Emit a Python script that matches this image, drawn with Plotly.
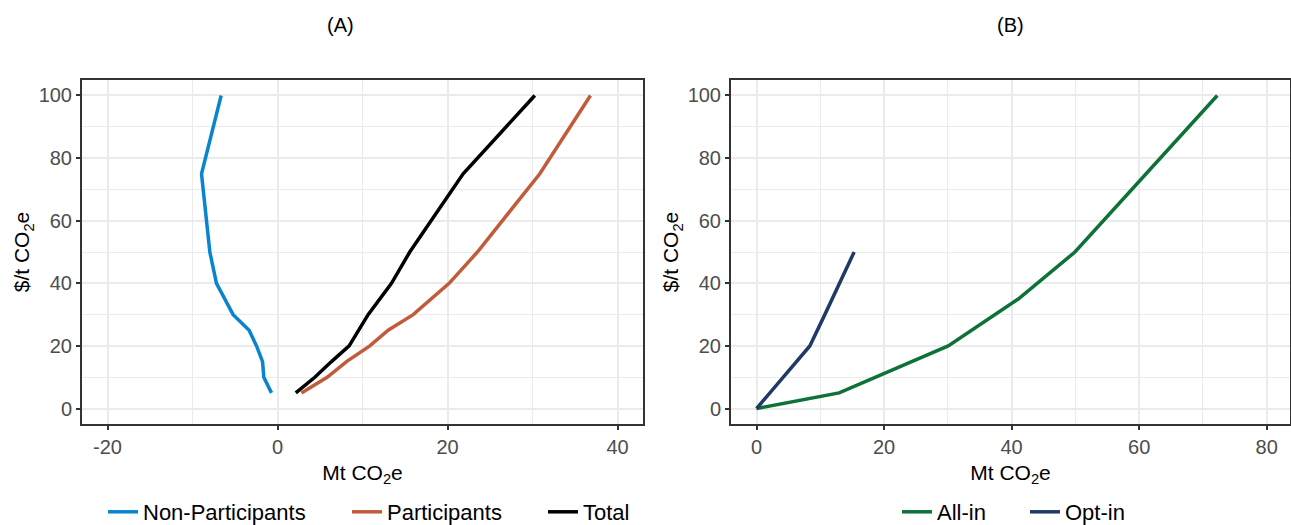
import plotly.graph_objects as go

# ---------------- data ----------------
price_np = [5, 10, 15, 20, 25, 30, 40, 50, 75, 100]
non_participants = [-0.71, -1.61, -1.76, -2.47, -3.34, -5.22, -7.18, -7.96, -8.94, -6.63]

price_p = [5, 10, 15, 20, 25, 30, 40, 50, 75, 100]
participants = [2.82, 5.84, 8.12, 10.86, 13.02, 15.96, 20.19, 23.52, 30.86, 36.82]

price_t = [5, 10, 15, 20, 30, 40, 50, 75, 100]
total = [2.15, 4.39, 6.35, 8.43, 10.66, 13.41, 15.56, 21.84, 30.27]

price_all = [0, 5, 20, 35, 50, 100]
all_in = [0, 12.96, 30.06, 41.04, 49.93, 72.25]

price_opt = [0, 10, 20, 30, 40, 50]
opt_in = [0, 4.18, 8.36, 10.71, 13.06, 15.31]

xticks_a = [-20, 0, 20, 40]
xticks_a_text = ["-20", "0", "20", "40"]
xticks_b = [0, 20, 40, 60, 80]
yticks = [0, 20, 40, 60, 80, 100]

panel_titles = ["(A)", "(B)"]
x_title = "Mt CO<sub>2</sub>e"
y_title = "$/t CO<sub>2</sub>e"

# ---------------- styling ----------------
W, H = 1291, 525
FIG_H = 533
FONT = "Liberation Sans, Arial, sans-serif"
C_BLUE = "#0A84CF"
C_ORANGE = "#C25B3A"
C_BLACK = "#000000"
C_GREEN = "#0E7138"
C_NAVY = "#1F3A66"
LW = 3.5

def px_x(p):
    return p / W

def px_y(p):
    return (H - p) / H

fig = go.Figure()

series = [
    ("Non-Participants", non_participants, price_np, C_BLUE, "x", "y", "legend"),
    ("Participants", participants, price_p, C_ORANGE, "x", "y", "legend2"),
    ("Total", total, price_t, C_BLACK, "x", "y", "legend3"),
    ("All-in", all_in, price_all, C_GREEN, "x2", "y2", "legend4"),
    ("Opt-in", opt_in, price_opt, C_NAVY, "x2", "y2", "legend5"),
]
for name, xs, ys, col, xa, ya, lg in series:
    fig.add_trace(go.Scatter(
        x=xs, y=ys, mode="lines", name=name, showlegend=True,
        line=dict(color=col, width=LW),
        xaxis=xa, yaxis=ya, legend=lg, hoverinfo="skip",
    ))

grid_c = "#EBEBEB"
axis_common = dict(
    showline=True, mirror=True, linecolor="#333333", linewidth=2,
    ticks="outside", ticklen=4, tickwidth=1.5, tickcolor="#333333",
    tickfont=dict(family=FONT, size=20, color="#4D4D4D"),
    showgrid=True, gridcolor=grid_c, gridwidth=2,
    zeroline=False, automargin=False,
)
minor = dict(showgrid=True, gridcolor=grid_c, gridwidth=1, dtick=10, tick0=0)
title_font = dict(family=FONT, size=21, color="black")

ydom = [px_y(425), px_y(80)]

fig.update_layout(
    width=W, height=FIG_H, autosize=False,
    margin=dict(l=0, r=0, t=0, b=0),
    paper_bgcolor="white", plot_bgcolor="white",
    template="none", showlegend=True,
    font=dict(family=FONT, size=20, color="black"),
    xaxis=dict(domain=[px_x(82), px_x(643)], range=[-23, 43],
               tickmode="array", tickvals=xticks_a, ticktext=xticks_a_text, minor=minor,
               title=dict(text=x_title, font=title_font, standoff=8),
               anchor="y", **axis_common),
    yaxis=dict(domain=ydom, range=[-5, 105], tickmode="array", tickvals=yticks, minor=minor,
               title=dict(text=y_title, font=title_font, standoff=3),
               anchor="x", **axis_common),
    xaxis2=dict(domain=[px_x(731), px_x(1290)], range=[-4, 83.65],
                tickmode="array", tickvals=xticks_b, minor=minor,
                title=dict(text=x_title, font=title_font, standoff=8),
                anchor="y2", **axis_common),
    yaxis2=dict(domain=ydom, range=[-5, 105], tickmode="array", tickvals=yticks, minor=minor,
                title=dict(text=y_title, font=title_font, standoff=3),
                anchor="x2", **axis_common),
)

# legends: one per entry so each sits where the reference has it
leg_text_x = {"legend": 145, "legend2": 389, "legend3": 585, "legend4": 939, "legend5": 1067}
for lg, tx in leg_text_x.items():
    fig.update_layout({lg: dict(
        x=px_x(tx - 42), y=px_y(513), xanchor="left", yanchor="middle",
        orientation="h", bgcolor="rgba(0,0,0,0)", borderwidth=0,
        font=dict(family=FONT, size=22, color="black"),
        itemwidth=30, tracegroupgap=0,
    )})

# panel titles
for txt, cx in zip(panel_titles, [340, 1010]):
    fig.add_annotation(text=txt, x=px_x(cx), y=px_y(25), xref="paper", yref="paper",
                       xanchor="center", yanchor="middle", showarrow=False,
                       font=dict(family=FONT, size=20, color="black"))

fig.write_html("out.html", config={"displayModeBar": False, "responsive": False})

# remove the browser's default page margin so the figure sits at (0, 0)
with open("out.html", "r", encoding="utf-8") as f:
    html = f.read()
html = html.replace("<body>", '<body style="margin:0;padding:0;overflow:hidden">', 1)
with open("out.html", "w", encoding="utf-8") as f:
    f.write(html)
